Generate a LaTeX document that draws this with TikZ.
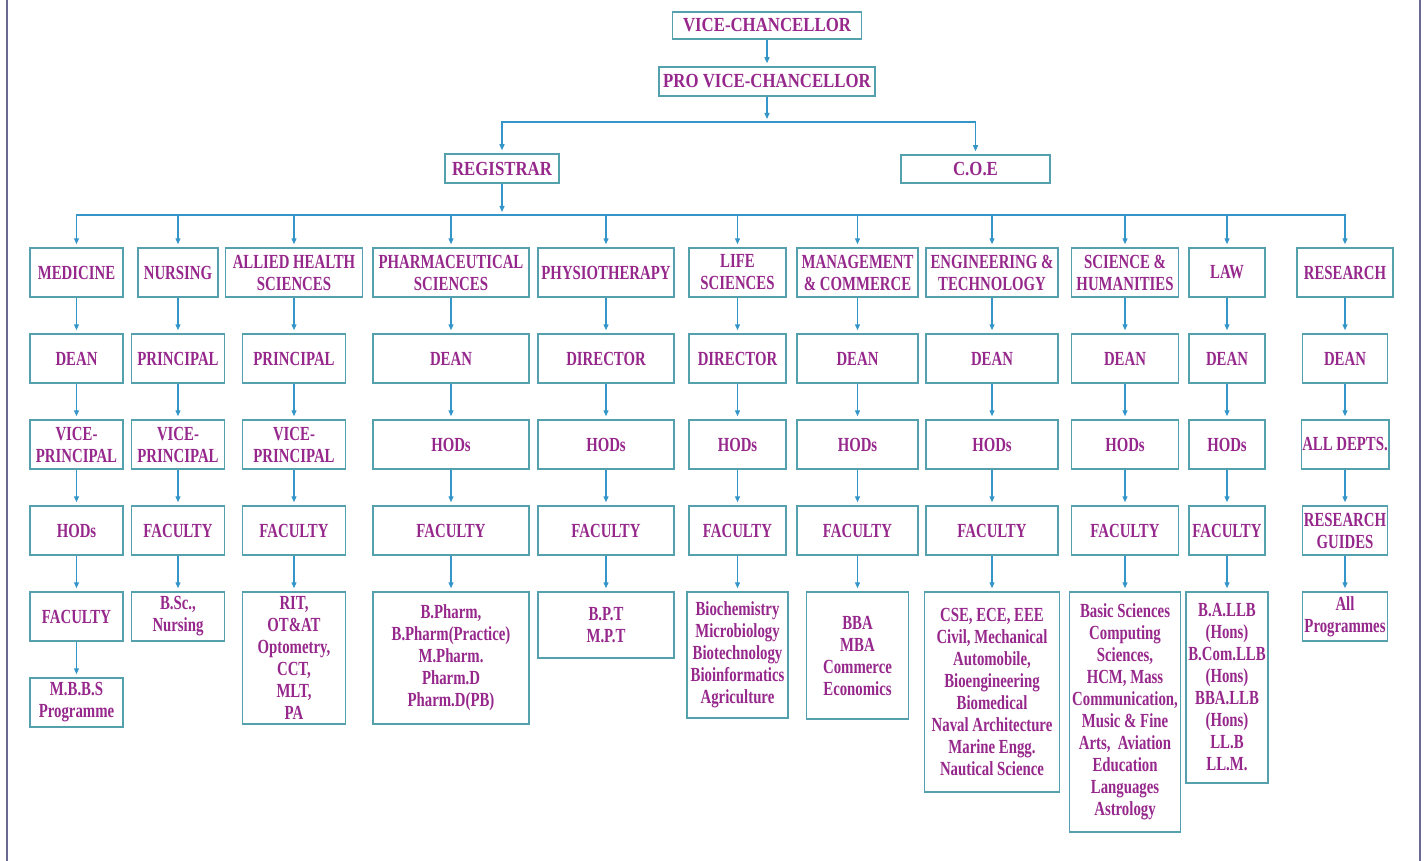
\documentclass[tikz,border=0pt]{standalone}
\usepackage{fontspec}
\setmainfont{Liberation Serif}[FakeStretch=0.74]
\newfontfamily\headfont{Liberation Serif}[FakeStretch=0.84]
\usetikzlibrary{positioning,arrows.meta}
\definecolor{boxline}{RGB}{84,160,172}
\definecolor{linkline}{RGB}{52,150,200}
\definecolor{purp}{RGB}{150,40,140}
\definecolor{frameline}{RGB}{105,105,145}
\begin{document}
\begin{tikzpicture}[x=1pt, y=-1pt, node distance=35.5pt,
	post/.style = {draw=boxline, line width=1.5pt, text=purp, font=\bfseries\fontsize{20}{22}\selectfont, align=center, inner sep=1pt, minimum height=49pt},
	head/.style = {post, font=\headfont\bfseries\fontsize{20}{22}\selectfont, minimum height=28pt},
	link/.style = {draw=linkline, line width=1.3pt, -{Triangle[length=6pt,width=5pt]}, shorten >=3pt}]
		\useasboundingbox (0,0) rectangle (1426,861);
		\draw[frameline, line width=2.5pt] (7,0) -- (7,861);
		\draw[frameline, line width=2.5pt] (1420,0) -- (1420,861);
		
		\node[head, minimum width=189pt, minimum height=27pt] (vc) at (767,25.5) {VICE-CHANCELLOR};
		\node[head, minimum width=216pt, minimum height=29pt] (pvc) at (767,81.5) {PRO VICE-CHANCELLOR};
		\node[head, minimum width=114pt, minimum height=29pt] (reg) at (502,168.5) {REGISTRAR};
		\node[head, minimum width=149pt] (coe) at (975.5,169) {C.O.E};
		\coordinate (split) at (767,122);
		\coordinate (bus) at (502,215);
		
		% medicine
		\node[post, minimum width=93pt] (med1) at (76.5,272.5) {MEDICINE};
		\node[post, minimum width=93pt] (med2) [below=of med1] {DEAN};
		\node[post, minimum width=93pt] (med3) [below=of med2] {VICE-\\PRINCIPAL};
		\node[post, minimum width=93pt] (med4) [below=of med3] {HODs};
		\node[post, minimum width=93pt] (med5) [below=of med4] {FACULTY};
		\node[post, minimum width=93pt] (med6) [below=of med5] {M.B.B.S\\Programme};
		
		% nursing
		\node[post, minimum width=80pt] (nur1) at (178,272.5) {NURSING};
		\node[post, minimum width=93pt] (nur2) [below=of nur1] {PRINCIPAL};
		\node[post, minimum width=93pt] (nur3) [below=of nur2] {VICE-\\PRINCIPAL};
		\node[post, minimum width=93pt] (nur4) [below=of nur3] {FACULTY};
		\node[post, minimum width=93pt] (nur5) [below=of nur4] {B.Sc.,\\Nursing};
		
		% allied health
		\node[post, minimum width=137pt] (ahs1) at (294,272.5) {ALLIED HEALTH\\SCIENCES};
		\node[post, minimum width=103pt] (ahs2) [below=of ahs1] {PRINCIPAL};
		\node[post, minimum width=103pt] (ahs3) [below=of ahs2] {VICE-\\PRINCIPAL};
		\node[post, minimum width=103pt] (ahs4) [below=of ahs3] {FACULTY};
		\node[post, minimum width=103pt, minimum height=132pt] (ahs5) [below=of ahs4] {RIT,\\OT\&AT\\Optometry,\\CCT,\\MLT,\\PA};
		
		% pharmacy
		\node[post, minimum width=156pt] (pha1) at (451,272.5) {PHARMACEUTICAL\\SCIENCES};
		\node[post, minimum width=156pt] (pha2) [below=of pha1] {DEAN};
		\node[post, minimum width=156pt] (pha3) [below=of pha2] {HODs};
		\node[post, minimum width=156pt] (pha4) [below=of pha3] {FACULTY};
		\node[post, minimum width=156pt, minimum height=132pt] (pha5) [below=of pha4] {B.Pharm,\\B.Pharm(Practice)\\M.Pharm.\\Pharm.D\\Pharm.D(PB)};
		
		% physiotherapy
		\node[post, minimum width=136pt] (phy1) at (606,272.5) {PHYSIOTHERAPY};
		\node[post, minimum width=136pt] (phy2) [below=of phy1] {DIRECTOR};
		\node[post, minimum width=136pt] (phy3) [below=of phy2] {HODs};
		\node[post, minimum width=136pt] (phy4) [below=of phy3] {FACULTY};
		\node[post, minimum width=136pt, minimum height=66pt] (phy5) [below=of phy4] {B.P.T\\M.P.T};
		
		% life sciences
		\node[post, minimum width=97pt] (lif1) at (737.5,272.5) {LIFE\\SCIENCES};
		\node[post, minimum width=97pt] (lif2) [below=of lif1] {DIRECTOR};
		\node[post, minimum width=97pt] (lif3) [below=of lif2] {HODs};
		\node[post, minimum width=97pt] (lif4) [below=of lif3] {FACULTY};
		\node[post, minimum width=101pt, minimum height=126pt] (lif5) [below=of lif4] {Biochemistry\\Microbiology\\Biotechnology\\Bioinformatics\\Agriculture};
		
		% management
		\node[post, minimum width=121pt] (mgt1) at (857.5,272.5) {MANAGEMENT\\\& COMMERCE};
		\node[post, minimum width=121pt] (mgt2) [below=of mgt1] {DEAN};
		\node[post, minimum width=121pt] (mgt3) [below=of mgt2] {HODs};
		\node[post, minimum width=121pt] (mgt4) [below=of mgt3] {FACULTY};
		\node[post, minimum width=102pt, minimum height=127pt] (mgt5) [below=of mgt4] {BBA\\MBA\\Commerce\\Economics};
		
		% engineering
		\node[post, minimum width=132pt] (eng1) at (992,272.5) {ENGINEERING \&\\TECHNOLOGY};
		\node[post, minimum width=132pt] (eng2) [below=of eng1] {DEAN};
		\node[post, minimum width=132pt] (eng3) [below=of eng2] {HODs};
		\node[post, minimum width=132pt] (eng4) [below=of eng3] {FACULTY};
		\node[post, minimum width=135pt, minimum height=200pt] (eng5) [below=of eng4] {CSE, ECE, EEE\\Civil, Mechanical\\Automobile,\\Bioengineering\\Biomedical\\Naval Architecture\\Marine Engg.\\Nautical Science};
		
		% science and humanities
		\node[post, minimum width=107pt] (sci1) at (1125,272.5) {SCIENCE \&\\HUMANITIES};
		\node[post, minimum width=107pt] (sci2) [below=of sci1] {DEAN};
		\node[post, minimum width=107pt] (sci3) [below=of sci2] {HODs};
		\node[post, minimum width=107pt] (sci4) [below=of sci3] {FACULTY};
		\node[post, minimum width=111pt, minimum height=240pt] (sci5) [below=of sci4] {Basic Sciences\\Computing\\Sciences,\\HCM, Mass\\Communication,\\Music \& Fine\\Arts,\ \ Aviation\\Education\\Languages\\Astrology};
		
		% law
		\node[post, minimum width=76pt] (law1) at (1227,272.5) {LAW};
		\node[post, minimum width=76pt] (law2) [below=of law1] {DEAN};
		\node[post, minimum width=76pt] (law3) [below=of law2] {HODs};
		\node[post, minimum width=76pt] (law4) [below=of law3] {FACULTY};
		\node[post, minimum width=82pt, minimum height=191pt] (law5) [below=of law4] {B.A.LLB\\(Hons)\\B.Com.LLB\\(Hons)\\BBA.LLB\\(Hons)\\LL.B\\LL.M.};
		
		% research
		\node[post, minimum width=96pt] (res1) at (1345,272.5) {RESEARCH};
		\node[post, minimum width=85pt] (res2) [below=of res1] {DEAN};
		\node[post, minimum width=85pt] (res3) [below=of res2] {ALL DEPTS.};
		\node[post, minimum width=85pt] (res4) [below=of res3] {RESEARCH\\GUIDES};
		\node[post, minimum width=85pt] (res5) [below=of res4] {All\\Programmes};
		
		\draw[link] (vc) -- (pvc);
		\draw[link] (pvc) -- (split);
		\draw[link] (split) -| (reg);
		\draw[link] (split) -| (coe);
		\draw[link] (reg) -- (bus);
		\draw[link] (bus) -| (med1);
		\draw[link] (bus) -| (nur1);
		\draw[link] (bus) -| (ahs1);
		\draw[link] (bus) -| (pha1);
		\draw[link] (bus) -| (phy1);
		\draw[link] (bus) -| (lif1);
		\draw[link] (bus) -| (mgt1);
		\draw[link] (bus) -| (eng1);
		\draw[link] (bus) -| (sci1);
		\draw[link] (bus) -| (law1);
		\draw[link] (bus) -| (res1);
		
		\draw[link] (med1) -- (med2);
		\draw[link] (med2) -- (med3);
		\draw[link] (med3) -- (med4);
		\draw[link] (med4) -- (med5);
		\draw[link] (med5) -- (med6);
		\draw[link] (nur1) -- (nur2);
		\draw[link] (nur2) -- (nur3);
		\draw[link] (nur3) -- (nur4);
		\draw[link] (nur4) -- (nur5);
		\draw[link] (ahs1) -- (ahs2);
		\draw[link] (ahs2) -- (ahs3);
		\draw[link] (ahs3) -- (ahs4);
		\draw[link] (ahs4) -- (ahs5);
		\draw[link] (pha1) -- (pha2);
		\draw[link] (pha2) -- (pha3);
		\draw[link] (pha3) -- (pha4);
		\draw[link] (pha4) -- (pha5);
		\draw[link] (phy1) -- (phy2);
		\draw[link] (phy2) -- (phy3);
		\draw[link] (phy3) -- (phy4);
		\draw[link] (phy4) -- (phy5);
		\draw[link] (lif1) -- (lif2);
		\draw[link] (lif2) -- (lif3);
		\draw[link] (lif3) -- (lif4);
		\draw[link] (lif4) -- (lif5);
		\draw[link] (mgt1) -- (mgt2);
		\draw[link] (mgt2) -- (mgt3);
		\draw[link] (mgt3) -- (mgt4);
		\draw[link] (mgt4) -- (mgt5);
		\draw[link] (eng1) -- (eng2);
		\draw[link] (eng2) -- (eng3);
		\draw[link] (eng3) -- (eng4);
		\draw[link] (eng4) -- (eng5);
		\draw[link] (sci1) -- (sci2);
		\draw[link] (sci2) -- (sci3);
		\draw[link] (sci3) -- (sci4);
		\draw[link] (sci4) -- (sci5);
		\draw[link] (law1) -- (law2);
		\draw[link] (law2) -- (law3);
		\draw[link] (law3) -- (law4);
		\draw[link] (law4) -- (law5);
		\draw[link] (res1) -- (res2);
		\draw[link] (res2) -- (res3);
		\draw[link] (res3) -- (res4);
		\draw[link] (res4) -- (res5);
	\end{tikzpicture}
\end{document}
